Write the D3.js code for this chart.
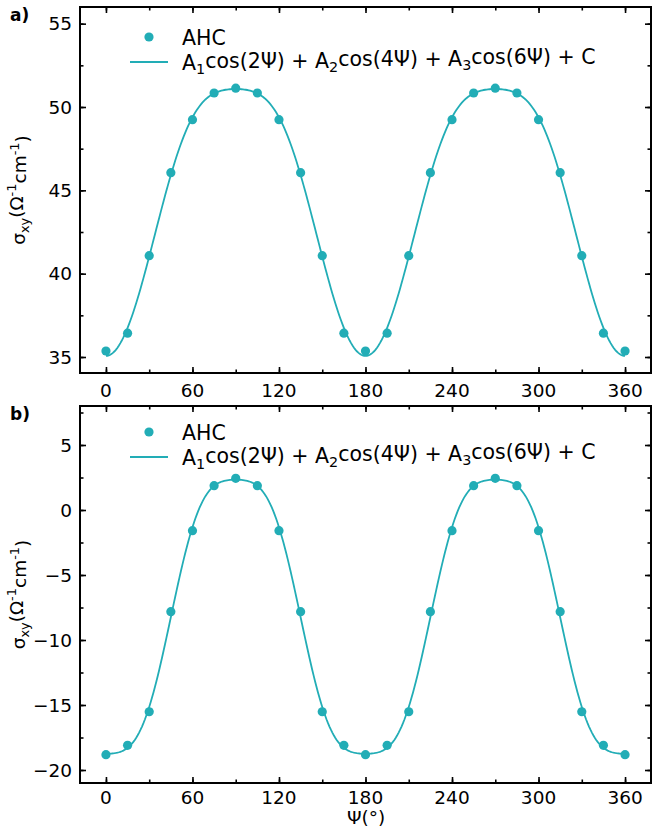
<!DOCTYPE html>
<html>
<head>
<meta charset="utf-8">
<script src="https://cdn.jsdelivr.net/npm/d3@7"></script>
<style>
  body { margin: 0; background: #fff; }
  svg { font-family: "DejaVu Sans", sans-serif; }
</style>
</head>
<body>
<div id="chart"></div>
<script>
// angles (deg) shared by both panels
const angles = [0, 15, 30, 45, 60, 75, 90, 105, 120, 135, 150, 165, 180,
                195, 210, 225, 240, 255, 270, 285, 300, 315, 330, 345, 360];

// panel a) AHC values
const ahcA = [35.36, 36.43, 41.08, 46.06, 49.24, 50.84, 51.13, 50.84, 49.24, 46.06, 41.08, 36.43, 35.36,
              36.43, 41.08, 46.06, 49.24, 50.84, 51.13, 50.84, 49.24, 46.06, 41.08, 36.43, 35.36];
// panel b) AHC values
const ahcB = [-18.82, -18.1, -15.52, -7.82, -1.59, 1.87, 2.44, 1.87, -1.59, -7.82, -15.52, -18.1, -18.82,
              -18.1, -15.52, -7.82, -1.59, 1.87, 2.44, 1.87, -1.59, -7.82, -15.52, -18.1, -18.82];

// fit coefficients [A1, A2, A3, C]
const fitA = [-8.123, -1.422, 0.116, 44.495];
const fitB = [-11.635, 0.018, 1.095, -8.228];

const xTicks = [0, 60, 120, 180, 240, 300, 360];
const yTicksA = [35, 40, 45, 50, 55];
const yTicksB = [-20, -15, -10, -5, 0, 5];

const color = "#22adb6";
const W = 652, H = 829;

const svg = d3.select("#chart").append("svg").attr("width", W).attr("height", H);

function subText(sel, parts) {
  // parts: [text, mode] mode: "", "sub", "sup"
  parts.forEach(function (p) {
    const t = sel.append("tspan").text(p[0]);
    if (p[1] === "sub") t.attr("font-size", "0.7em").attr("dy", "0.3em");
    if (p[1] === "sup") t.attr("font-size", "0.7em").attr("dy", "-0.55em");
    if (p[1] === "back-sub") t.attr("dy", "-0.3em");
    if (p[1] === "back-sup") t.attr("dy", "0.55em");
  });
}

function drawPanel(opt) {
  const x = d3.scaleLinear().domain([-18, 378]).range([80, 651]);
  const y = d3.scaleLinear().domain(opt.yDomain).range([opt.bottom, opt.top]);
  const g = svg.append("g");

  const xMinor = d3.range(0, 361, 30);
  const yMinor = d3.range(opt.yDomain[0], opt.yDomain[1], 0.1)
    .map(v => Math.round(v * 10) / 10).filter(v => Math.abs(v / 2.5 - Math.round(v / 2.5)) < 1e-6);

  // ticks inward on all 4 sides
  const fmt = d3.format("d");
  g.append("g").attr("transform", `translate(0,${opt.bottom})`)
    .call(d3.axisTop(x).tickValues(xMinor).tickSize(3.5).tickFormat(""))
    .call(a => a.select(".domain").remove());
  g.append("g").attr("transform", `translate(0,${opt.bottom})`)
    .call(d3.axisTop(x).tickValues(xTicks).tickSize(6).tickFormat(""))
    .call(a => a.select(".domain").remove());
  g.append("g").attr("transform", `translate(0,${opt.top})`)
    .call(d3.axisBottom(x).tickValues(xMinor).tickSize(3.5).tickFormat(""))
    .call(a => a.select(".domain").remove());
  g.append("g").attr("transform", `translate(0,${opt.top})`)
    .call(d3.axisBottom(x).tickValues(xTicks).tickSize(6).tickFormat(""))
    .call(a => a.select(".domain").remove());
  g.append("g").attr("transform", "translate(80,0)")
    .call(d3.axisRight(y).tickValues(yMinor).tickSize(3.5).tickFormat(""))
    .call(a => a.select(".domain").remove());
  g.append("g").attr("transform", "translate(80,0)")
    .call(d3.axisRight(y).tickValues(opt.yTicks).tickSize(6).tickFormat(""))
    .call(a => a.select(".domain").remove());
  g.append("g").attr("transform", "translate(651,0)")
    .call(d3.axisLeft(y).tickValues(yMinor).tickSize(3.5).tickFormat(""))
    .call(a => a.select(".domain").remove());
  g.append("g").attr("transform", "translate(651,0)")
    .call(d3.axisLeft(y).tickValues(opt.yTicks).tickSize(6).tickFormat(""))
    .call(a => a.select(".domain").remove());
  g.selectAll(".tick line").attr("stroke", "#000").attr("stroke-width", 1.6);

  // tick labels
  g.selectAll(".xlab").data(xTicks).join("text")
    .attr("x", d => x(d)).attr("y", opt.bottom + opt.xLabOff)
    .attr("text-anchor", "middle").attr("font-size", 18.5).text(d => fmt(d));
  g.selectAll(".ylab").data(opt.yTicks).join("text")
    .attr("x", 72).attr("y", d => y(d)).attr("dy", "0.36em")
    .attr("text-anchor", "end").attr("font-size", 18.5).text(d => d3.format("d")(d));

  // frame
  g.append("rect").attr("x", 80).attr("y", opt.top)
    .attr("width", 571).attr("height", opt.bottom - opt.top)
    .attr("fill", "none").attr("stroke", "#000").attr("stroke-width", 2);

  // fit curve
  const c = opt.fit;
  const fine = d3.range(0, 360.01, 1);
  const line = d3.line()
    .x(d => x(d))
    .y(d => {
      const r = d * Math.PI / 180;
      return y(c[0] * Math.cos(2 * r) + c[1] * Math.cos(4 * r) + c[2] * Math.cos(6 * r) + c[3]);
    });
  g.append("path").datum(fine).attr("d", line)
    .attr("fill", "none").attr("stroke", color).attr("stroke-width", 1.8);

  // data points
  g.selectAll(".pt").data(angles).join("circle")
    .attr("cx", d => x(d)).attr("cy", (d, i) => y(opt.vals[i]))
    .attr("r", 4.6).attr("fill", color);

  // legend
  const ly = opt.top + opt.legendOff;
  g.append("circle").attr("cx", 149).attr("cy", ly).attr("r", 4.6).attr("fill", color);
  g.append("text").attr("x", 182).attr("y", ly + 7.5).attr("font-size", 20.5).text("AHC");
  g.append("line").attr("x1", 130).attr("x2", 168).attr("y1", ly + 25).attr("y2", ly + 25)
    .attr("stroke", color).attr("stroke-width", 1.8);
  const lt = g.append("text").attr("x", 182).attr("y", ly + 32.5).attr("font-size", 20.5);
  subText(lt, [["A", ""], ["1", "sub"], ["cos(2Ψ) + A", "back-sub"], ["2", "sub"],
               ["cos(4Ψ) + A", "back-sub"], ["3", "sub"], ["cos(6Ψ) + C", "back-sub"]]);

  // y label
  const yl = g.append("text")
    .attr("transform", `translate(25,${(opt.top + opt.bottom) / 2}) rotate(-90)`)
    .attr("text-anchor", "middle").attr("font-size", 18.5);
  subText(yl, [["σ", ""], ["xy", "sub"], ["(Ω", "back-sub"], ["-1", "sup"], ["cm", "back-sup"],
               ["-1", "sup"], [")", "back-sup"]]);

  // panel label
  g.append("text").attr("x", 10).attr("y", opt.top + 14)
    .attr("font-size", 17).attr("font-weight", "bold").text(opt.label);
}

drawPanel({ top: 7, bottom: 373, yDomain: [34.04, 56.0], yTicks: yTicksA,
            vals: ahcA, fit: fitA, label: "a)", legendOff: 30, xLabOff: 24 });
drawPanel({ top: 406, bottom: 783, yDomain: [-21, 8], yTicks: yTicksB,
            vals: ahcB, fit: fitB, label: "b)", legendOff: 26, xLabOff: 21 });

svg.append("text").attr("x", 366).attr("y", 824).attr("text-anchor", "middle")
  .attr("font-size", 18.5).text("Ψ(°)");
</script>
</body>
</html>
